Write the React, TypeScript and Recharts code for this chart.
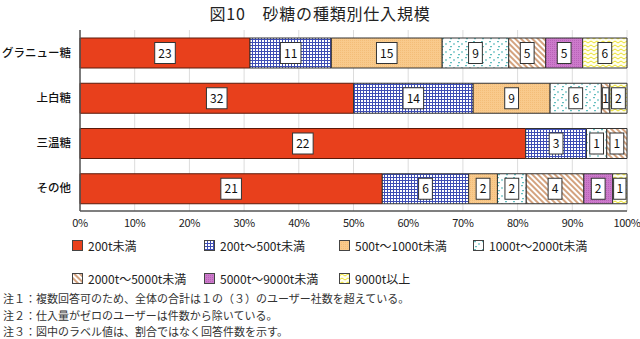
import React from 'react';
import { BarChart, Bar, XAxis, YAxis, CartesianGrid, LabelList } from 'recharts';

const categories = ['グラニュー糖', '上白糖', '三温糖', 'その他'];
const seriesNames = ['200t未満', '200t～500t未満', '500t～1000t未満', '1000t～2000t未満', '2000t～5000t未満', '5000t～9000t未満', '9000t以上'];
const under200 = [23, 32, 22, 21];
const from200 = [11, 14, 3, 6];
const from500 = [15, 9, 0, 2];
const from1000 = [9, 6, 1, 2];
const from2000 = [5, 1, 1, 4];
const from5000 = [5, 0, 0, 2];
const over9000 = [6, 2, 0, 1];
const xTicks = [0, 0.1, 0.2, 0.3, 0.4, 0.5, 0.6, 0.7, 0.8, 0.9, 1];
const notes = [
  '注１：複数回答可のため、全体の合計は１の（３）のユーザー社数を超えている。',
  '注２：仕入量がゼロのユーザーは件数から除いている。',
  '注３：図中のラベル値は、割合ではなく回答件数を示す。',
];

const seriesValues = [under200, from200, from500, from1000, from2000, from5000, over9000];
const fills = ['#e8401c', 'url(#pGrid)', 'url(#pOrange)', 'url(#pDots)', 'url(#pHatch)', 'url(#pPurple)', 'url(#pZig)'];
const data = categories.map((name, i) => {
  const row: Record<string, any> = { name };
  seriesValues.forEach((vals, k) => { row['s' + k] = vals[i]; });
  return row;
});

const FONT = '"Noto Sans CJK JP", "Noto Sans", sans-serif';

// white box with the count, centred in the segment
const renderCount = (props: any) => {
  const vb = props.viewBox || props;
  const x = vb.x ?? props.x;
  const y = vb.y ?? props.y;
  const w = vb.width ?? props.width;
  const h = vb.height ?? props.height;
  const v = props.value;
  if (!v || !w) return null;
  const txt = String(v);
  const bw = Math.min(txt.length * 6.8 + 7, w - 2);
  const bh = 21;
  const cx = x + w / 2;
  const cy = y + h / 2;
  return (
    <g>
      <rect x={cx - bw / 2} y={cy - bh / 2} width={bw} height={bh} fill="#fff" stroke="#333" strokeWidth={1} />
      <text x={cx} y={cy + 4.5} textAnchor="middle" fontSize={12} fill="#111" fontFamily={FONT}>{txt}</text>
    </g>
  );
};

const Patterns = () => (
  <svg width={0} height={0} style={{ position: 'absolute' }}>
    <defs>
      <pattern id="pGrid" width="3" height="3" patternUnits="userSpaceOnUse">
        <rect width="3" height="3" fill="#fff" />
        <path d="M0 0.5H3M0.5 0V3" stroke="#3e4db4" strokeWidth="1" />
      </pattern>
      <pattern id="pOrange" width="2" height="2" patternUnits="userSpaceOnUse">
        <rect width="2" height="2" fill="#f9ca8c" />
        <rect width="1" height="1" fill="#f3bd78" />
      </pattern>
      <pattern id="pDots" width="8" height="8" patternUnits="userSpaceOnUse">
        <rect width="8" height="8" fill="#fff" />
        <path d="M1 1h2l-1 1.8z M5 3.5h2l-1 1.8z M2 6h2l-1 1.8z" fill="#26a4a6" />
      </pattern>
      <pattern id="pHatch" width="4" height="4" patternUnits="userSpaceOnUse" patternTransform="rotate(-45)">
        <rect width="4" height="4" fill="#fff" />
        <line x1="1" y1="0" x2="1" y2="4" stroke="#c98b5e" strokeWidth="1.6" />
      </pattern>
      <pattern id="pPurple" width="2" height="2" patternUnits="userSpaceOnUse">
        <rect width="2" height="2" fill="#cc7acb" />
        <rect width="1" height="1" fill="#b963b8" />
      </pattern>
      <pattern id="pZig" width="6" height="4" patternUnits="userSpaceOnUse">
        <rect width="6" height="4" fill="#fffef0" />
        <path d="M0 3L3 1L6 3" fill="none" stroke="#ece22a" strokeWidth="1" />
      </pattern>
    </defs>
  </svg>
);

const legendPos = [
  [72, 245], [204, 245], [339, 245], [473, 245],
  [72, 278], [204, 278], [339, 278],
];

export default function App() {
  return (
    <div style={{ position: 'absolute', left: 0, top: 0, width: 640, height: 339, background: '#fff', fontFamily: FONT, color: '#222' }}>
      <Patterns />
      <div style={{ position: 'absolute', left: 0, top: 3, width: 640, textAlign: 'center', fontSize: 16, lineHeight: '20px', letterSpacing: 0.8 }}>
        図10　砂糖の種類別仕入規模
      </div>
      <div style={{ position: 'absolute', left: 0, top: 0 }}>
        <BarChart width={640} height={235} data={data} layout="vertical" stackOffset="expand" barSize={30}
          margin={{ top: 30, right: 13, left: 0, bottom: 0 }}>
          <CartesianGrid horizontal={false} stroke="#dcdcdc" />
          <XAxis type="number" domain={[0, 1]} ticks={xTicks} tickFormatter={(v: number) => Math.round(v * 100) + '%'}
            axisLine={{ stroke: '#555', strokeWidth: 1.5 }} tickLine={false} interval={0} height={24}
            tick={{ fontSize: 11, fill: '#222', fontFamily: FONT, letterSpacing: -0.4 }} />
          <YAxis type="category" dataKey="name" width={80} axisLine={{ stroke: '#555', strokeWidth: 1.5 }} tickLine={false} tickMargin={3}
            tick={{ fontSize: 11.5, fill: '#111', fontFamily: FONT, fontWeight: 500 }} />
          {seriesNames.map((s, k) => (
            <Bar key={s} dataKey={'s' + k} name={s} stackId="a" fill={fills[k]}
              stroke={k === 0 ? '#5a1a0a' : '#333'} strokeWidth={1} isAnimationActive={false}>
              <LabelList dataKey={'s' + k} content={renderCount} />
            </Bar>
          ))}
        </BarChart>
      </div>
      {seriesNames.map((s, k) => (
        <div key={s} style={{ position: 'absolute', left: legendPos[k][0], top: legendPos[k][1] - 8, height: 16, display: 'flex', alignItems: 'center', fontSize: 12, whiteSpace: 'nowrap' }}>
          <svg width={11} height={11} style={{ marginRight: 5 }}>
            <rect x={0.5} y={0.5} width={10} height={10} fill={fills[k]} stroke="#444" strokeWidth={1} />
          </svg>
          {s}
        </div>
      ))}
      {notes.map((n, i) => (
        <div key={i} style={{ position: 'absolute', left: 3, top: 292 + i * 16.5, fontSize: 11, lineHeight: '13px', color: '#333', whiteSpace: 'nowrap' }}>
          {n}
        </div>
      ))}
    </div>
  );
}
